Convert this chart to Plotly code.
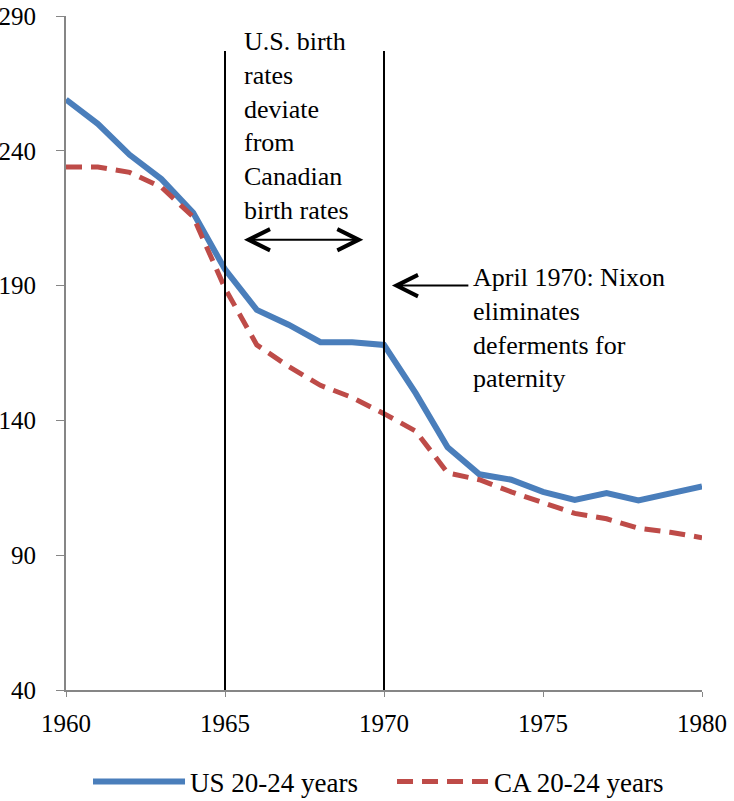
import plotly.graph_objects as go

# Birth rates per 1000 women aged 20-24
years = list(range(1960, 1981))
us_rates = [259, 250, 238.5, 229.5, 217, 196, 181, 175.5, 169, 169, 168,
            150, 130, 120, 118, 113.5, 110.5, 113, 110.3, 113, 115.5]
ca_rates = [234, 234, 232, 226.5, 215.5, 189, 168, 160, 153, 148.5, 142.5,
            136, 120.5, 118, 113.5, 109.5, 105.5, 103.5, 100, 98.5, 96.5]

# annotation markers
event_years = [1965, 1970]
line_top = 277
span_arrow = (1965.55, 1969.35, 207)
nixon_arrow = (1972.7, 1970.25, 190)

FONT = "Times New Roman, Liberation Serif, serif"

fig = go.Figure()
fig.add_trace(go.Scatter(x=years, y=us_rates, mode="lines", name="US 20-24 years",
                         line=dict(color="#4A7EBB", width=6)))
fig.add_trace(go.Scatter(x=years, y=ca_rates, mode="lines", name="CA 20-24 years",
                         line=dict(color="#BE4B48", width=5, dash="16px,9px")))

# vertical lines at 1965 and 1970
for yr in event_years:
    fig.add_shape(type="line", xref="x", yref="y", x0=yr, x1=yr, y0=40, y1=line_top,
                  line=dict(color="black", width=2))

fig.add_annotation(x=1965.55, y=286.5, xref="x", yref="y", xanchor="left", yanchor="top",
                   align="left", showarrow=False,
                   text="U.S. birth<br>rates<br>deviate<br>from<br>Canadian<br>birth rates",
                   font=dict(family=FONT, size=26, color="black"))

fig.add_annotation(x=span_arrow[1], y=span_arrow[2], ax=span_arrow[0], ay=span_arrow[2],
                   xref="x", yref="y", axref="x", ayref="y", text="",
                   showarrow=True, arrowhead=5, startarrowhead=5, arrowside="end+start",
                   arrowsize=2.1, startarrowsize=2.1, arrowwidth=2, arrowcolor="black")

fig.add_annotation(x=nixon_arrow[1], y=nixon_arrow[2], ax=nixon_arrow[0], ay=nixon_arrow[2],
                   xref="x", yref="y", axref="x", ayref="y", text="",
                   showarrow=True, arrowhead=5, arrowsize=2.1, arrowwidth=2,
                   arrowcolor="black")

fig.add_annotation(x=1972.75, y=199, xref="x", yref="y", xanchor="left", yanchor="top",
                   align="left", showarrow=False,
                   text="April 1970: Nixon<br>eliminates<br>deferments for<br>paternity",
                   font=dict(family=FONT, size=26, color="black"))

fig.update_layout(
    width=734, height=801, autosize=False,
    margin=dict(l=66, r=32, t=16, b=111, autoexpand=False),
    plot_bgcolor="white", paper_bgcolor="white",
    font=dict(family=FONT, size=25, color="black"),
    showlegend=True,
    legend=dict(orientation="h", x=0.5126, xanchor="center", y=-0.1365, yanchor="middle",
                font=dict(family=FONT, size=27), itemwidth=92,
                entrywidth=197, entrywidthmode="pixels"),
)
fig.update_xaxes(range=[1960, 1980], tickvals=[1960, 1965, 1970, 1975, 1980],
                 showgrid=False, zeroline=False, showline=True, linecolor="#868686",
                 linewidth=2, ticks="outside", ticklen=5, tickcolor="#868686",
                 ticklabelstandoff=5,
                 tickfont=dict(family=FONT, size=25), automargin=False)
fig.update_yaxes(range=[40, 290], tickvals=[40, 90, 140, 190, 240, 290],
                 showgrid=False, zeroline=False, showline=True, linecolor="#868686",
                 linewidth=2, ticks="outside", ticklen=8, tickcolor="#868686",
                 ticklabelstandoff=15,
                 tickfont=dict(family=FONT, size=25), automargin=False)

# drop the default page margin so the figure sits at the window's corner
fig.write_html("out.html", config={"displayModeBar": False},
               post_script="document.body.style.margin='0';")
